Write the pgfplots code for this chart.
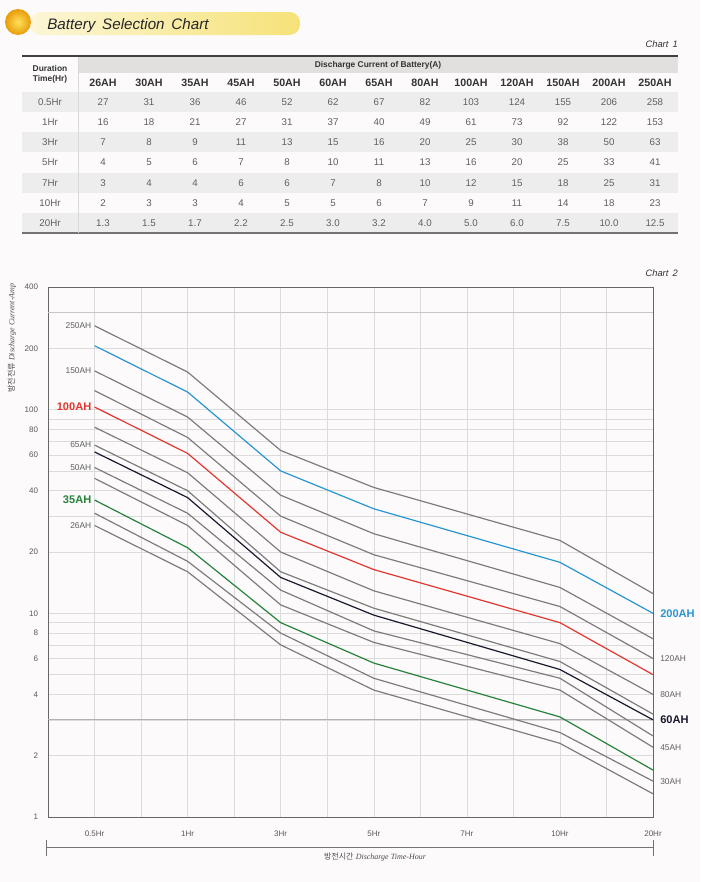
\documentclass[border=0pt]{standalone}
\usepackage{pgfplots}
\pgfplotsset{compat=1.18}
\usepackage{fontspec}
\setmainfont{Liberation Sans}
\newfontfamily\kr{Noto Sans CJK KR}
\newfontfamily\serifx{Liberation Serif}
\usetikzlibrary{shadings}
\definecolor{lgray}{RGB}{125,125,125}
\definecolor{lblue}{RGB}{40,150,210}
\definecolor{lred}{RGB}{225,55,50}
\definecolor{lblack}{RGB}{25,25,45}
\definecolor{lgreen}{RGB}{40,130,60}
\definecolor{bg}{RGB}{252,250,250}
\definecolor{rowshade}{RGB}{238,237,237}
\definecolor{band}{RGB}{226,224,222}
\definecolor{txt}{RGB}{95,95,95}
\begin{document}
\begin{tikzpicture}[
 lab/.style={font=\fontsize{6.3}{7}\selectfont, text=txt, inner sep=2pt},
 blab/.style={font=\fontsize{8.3}{9}\bfseries, inner sep=2pt}]
\begin{scope}[x=0.75pt,y=-0.75pt]
\fill[bg] (0,0) rectangle (700,882);
\useasboundingbox (0,0) rectangle (700,882);
% title
\shade[left color={rgb,255:red,252;green,246;blue,215}, right color={rgb,255:red,246;green,226;blue,120}, rounded corners=8pt] (30,12) rectangle (300,35);
\shade[inner color={rgb,255:red,255;green,225;blue,90}, outer color={rgb,255:red,232;green,155;blue,10}] (18,22) circle (13);
\node[anchor=base west, font=\fontsize{11.4}{13}\itshape, text=black!85, inner sep=0] at (47,29) {Battery\, Selection\, Chart};
\node[anchor=base east, font=\fontsize{7}{8}\itshape, text=black!80, inner sep=0] at (678,47) {Chart\, 1};
\node[anchor=base east, font=\fontsize{7}{8}\itshape, text=black!80, inner sep=0] at (678,276) {Chart\, 2};
% table
\foreach \r in {0,2,4,6} {\fill[rowshade] (22,{92+\r*20.14}) rectangle (678,{92+(\r+1)*20.14});}
\fill[band] (78,57) rectangle (678,73);
\draw[black!75, line width=1.2pt] (22,56) -- (678,56);
\draw[black!55, line width=1pt] (22,233) -- (678,233);
\draw[black!15, line width=0.5pt] (78,57) -- (78,233);
\node[font=\fontsize{6.3}{7.5}\bfseries, text=black!80, align=center] at (50,74) {Duration\\Time(Hr)};
\node[font=\fontsize{6.3}{7.5}\bfseries, text=black!80] at (378,65) {Discharge Current of Battery(A)};
\foreach \c [count=\i from 0] in {26AH,30AH,35AH,45AH,50AH,60AH,65AH,80AH,100AH,120AH,150AH,200AH,250AH}
  {\node[font=\fontsize{8}{9}\bfseries, text=black!80] at ({103+46*\i},83) {\c};}
\foreach \yy/\lab/\vals in {
 102/0.5Hr/{27,31,36,46,52,62,67,82,103,124,155,206,258},
 122/1Hr/{16,18,21,27,31,37,40,49,61,73,92,122,153},
 142/3Hr/{7,8,9,11,13,15,16,20,25,30,38,50,63},
 162/5Hr/{4,5,6,7,8,10,11,13,16,20,25,33,41},
 183/7Hr/{3,4,4,6,6,7,8,10,12,15,18,25,31},
 203/10Hr/{2,3,3,4,5,5,6,7,9,11,14,18,23},
 223/20Hr/{1.3,1.5,1.7,2.2,2.5,3.0,3.2,4.0,5.0,6.0,7.5,10.0,12.5}} {
  \node[font=\fontsize{7.3}{8}\selectfont, text=txt] at (50,\yy) {\lab};
  \foreach \v [count=\i from 0] in \vals {\node[font=\fontsize{7.3}{8}\selectfont, text=txt] at ({103+46*\i},\yy) {\v};}
}
% chart decorations
\node[rotate=90, font=\fontsize{6}{7}\selectfont, text=black!70] at (12,338) {{\kr 방전전류}\ {\serifx\itshape Discharge Current-Amp}};
\draw[black!55, line width=0.6pt] (46,847) -- (653,847);
\draw[black!55, line width=0.6pt] (46,840) -- (46,856);
\draw[black!55, line width=0.6pt] (653,840) -- (653,856);
\node[font=\fontsize{6}{7}\selectfont, text=black!70] at (375,857) {{\kr 방전시간}\ {\serifx\itshape Discharge Time-Hour}};
\end{scope}
\begin{axis}[
 at={(36pt,-612.75pt)}, anchor=south west, scale only axis,
 width=453.75pt, height=397.5pt,
 xmin=-0.5, xmax=6, ymode=log, ymin=1, ymax=400,
 xtick={0,...,6}, xticklabels={0.5Hr,1Hr,3Hr,5Hr,7Hr,10Hr,20Hr},
 minor xtick={0.5,1.5,2.5,3.5,4.5,5.5},
 ytick={1,2,4,6,8,10,20,40,60,80,100,200,400},
 yticklabels={1,2,4,6,8,10,20,40,60,80,100,200,400},
 minor ytick={3,5,7,9,30,50,70,90,300},
 grid=both,
 major grid style={draw=black!14, line width=0.4pt},
 minor grid style={draw=black!14, line width=0.4pt},
 major tick length=0pt, minor tick length=0pt,
 axis line style={draw=black!60, line width=0.7pt},
 tick label style={font=\fontsize{6}{7}\selectfont, text=black!65},
 xticklabel style={yshift=-7pt},
 yticklabel style={xshift=-4pt},
 clip=false,
 /pgf/number format/assume math mode=true,
 every axis plot/.append style={line width=0.9pt},
]
\addplot[black!30, line width=0.7pt, forget plot] coordinates {(-0.5,3) (6,3)};
\addplot[black!22, line width=0.6pt, forget plot] coordinates {(-0.5,300) (6,300)};
\addplot[lgray] coordinates {(0,27) (1,16) (2,7) (3,4.2) (5,2.3) (6,1.3)} node[pos=0, anchor=east, lab] {26AH};
\addplot[lgray] coordinates {(0,31) (1,18) (2,8) (3,4.8) (5,2.6) (6,1.5)} node[pos=1, anchor=west, lab, xshift=3pt] {30AH};
\addplot[lgreen] coordinates {(0,36) (1,21) (2,9) (3,5.7) (5,3.1) (6,1.7)} node[pos=0, anchor=east, blab, text=lgreen] {35AH};
\addplot[lgray] coordinates {(0,46) (1,27) (2,11) (3,7.2) (5,4.2) (6,2.2)} node[pos=1, anchor=west, lab, xshift=3pt] {45AH};
\addplot[lgray] coordinates {(0,52) (1,31) (2,13) (3,8.2) (5,4.8) (6,2.5)} node[pos=0, anchor=east, lab] {50AH};
\addplot[lblack] coordinates {(0,62) (1,37) (2,15) (3,9.8) (5,5.3) (6,3.0)} node[pos=1, anchor=west, blab, text=lblack, xshift=3pt] {60AH};
\addplot[lgray] coordinates {(0,67) (1,40) (2,16) (3,10.6) (5,5.8) (6,3.2)} node[pos=0, anchor=east, lab] {65AH};
\addplot[lgray] coordinates {(0,82) (1,49) (2,20) (3,12.9) (5,7.1) (6,4.0)} node[pos=1, anchor=west, lab, xshift=3pt] {80AH};
\addplot[lred] coordinates {(0,103) (1,61) (2,25) (3,16.4) (5,9.0) (6,5.0)} node[pos=0, anchor=east, blab, text=lred] {100AH};
\addplot[lgray] coordinates {(0,124) (1,73) (2,30) (3,19.4) (5,10.8) (6,6.0)} node[pos=1, anchor=west, lab, xshift=3pt] {120AH};
\addplot[lgray] coordinates {(0,155) (1,92) (2,38) (3,24.6) (5,13.4) (6,7.5)} node[pos=0, anchor=east, lab] {150AH};
\addplot[lblue] coordinates {(0,206) (1,122) (2,50) (3,32.6) (5,17.8) (6,10.0)} node[pos=1, anchor=west, blab, text=lblue, xshift=3pt] {200AH};
\addplot[lgray] coordinates {(0,258) (1,153) (2,63) (3,41.5) (5,22.8) (6,12.5)} node[pos=0, anchor=east, lab] {250AH};
\end{axis}
\end{tikzpicture}
\end{document}
